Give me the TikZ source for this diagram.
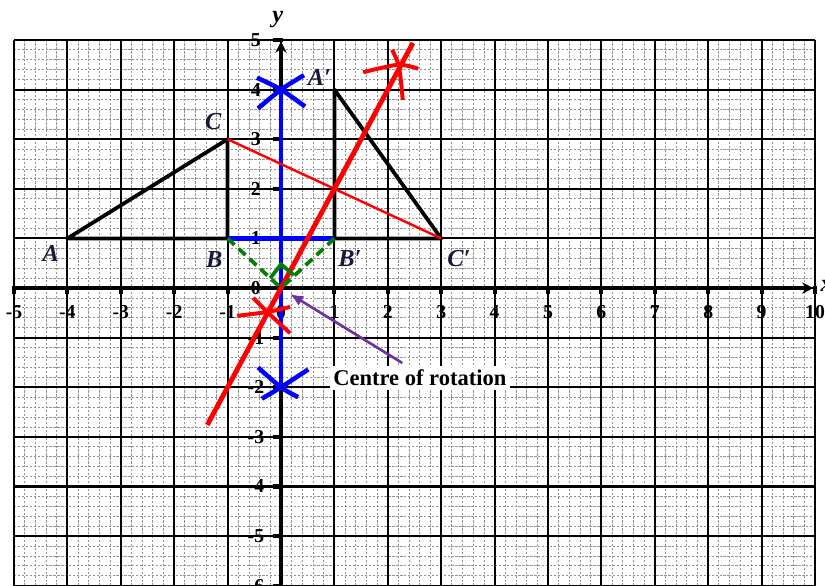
\documentclass[tikz,border=0pt]{standalone}
\usepackage{fontspec}
\setmainfont{Liberation Serif}
\usetikzlibrary{arrows.meta}
\definecolor{navyl}{RGB}{25,25,60}
\definecolor{rgreen}{RGB}{0,128,0}
\definecolor{rpurple}{RGB}{112,48,160}
\definecolor{rred}{RGB}{255,0,0}
\definecolor{rblue}{RGB}{0,0,255}
\begin{document}
\begin{tikzpicture}[x=1cm,y=0.929cm,
  minor/.style={gray!85, line width=0.45pt, dash pattern=on 1.2pt off 0.9pt},
  major/.style={black, line width=1.1pt},
  axisline/.style={black, line width=1.8pt},
  tickmark/.style={black, line width=2.2pt},
  tri/.style={black, line width=2pt, line join=round},
  ticklab/.style={font=\fontsize{10.5}{11}\selectfont\bfseries, inner sep=0pt},
  ptlab/.style={font=\fontsize{13}{15}\selectfont\bfseries\itshape, text=navyl, inner sep=0pt},
  bluethick/.style={rblue, line width=2.6pt},
  bluearc/.style={rblue, line width=2.4pt},
  redthick/.style={rred, line width=2.6pt},
  redthin/.style={rred, line width=1.3pt},
  redarc/.style={rred, line width=2.1pt},
  greendash/.style={rgreen, line width=2pt, dash pattern=on 5pt off 3pt},
  greenmark/.style={rgreen, line width=2pt, line join=miter},
  purplearrow/.style={rpurple, line width=1.4pt, -{Latex[length=7pt,width=6pt]}},
  calloutbox/.style={fill=white, inner sep=2pt, font=\fontsize{12}{14}\selectfont\bfseries}
]
\useasboundingbox (-5.262,-6) rectangle (10.187,5.806);

% minor grid
\foreach \i in {0,...,75} {
  \pgfmathsetmacro\xx{-5+0.2*\i}
  \draw[minor] (\xx,-6) -- (\xx,5);
}
\foreach \j in {0,...,55} {
  \pgfmathsetmacro\yy{-6+0.2*\j}
  \draw[minor] (-5,\yy) -- (10,\yy);
}
% major grid
\foreach \x in {-5,...,10} \draw[major] (\x,-6) -- (\x,5);
\foreach \y in {-6,...,5} \draw[major] (-5,\y) -- (10,\y);

% axes
\coordinate (xstart) at (-5,0);
\coordinate (xend) at (9.97,0);
\coordinate (ystart) at (0,-6);
\coordinate (yend) at (0,4.97);
\draw[axisline,-{Stealth[length=6pt,width=6pt]}] (xstart) -- (xend);
\draw[axisline,-{Stealth[length=6pt,width=6pt]}] (ystart) -- (yend);
\foreach \x in {-5,...,-1,1,2,...,10} \draw[tickmark] (\x,0.05) -- (\x,-0.12);
\foreach \y in {-6,...,-1,1,2,...,5} \draw[tickmark] (-0.15,\y) -- (0.03,\y);

% tick labels
\foreach \x in {-5,...,10} \node[ticklab] (xl\x) at (\x,-0.48) {\x};
\foreach \y in {-6,...,5} \node[ticklab] (yl\y) at (-0.47,\y) {\y};
\node[font=\fontsize{13}{15}\selectfont\bfseries\itshape, inner sep=0pt] (ylab) at (-0.06,5.42) {y};
\node[font=\fontsize{13}{15}\selectfont\bfseries\itshape, inner sep=0pt, anchor=west] (xlab) at (10.1,0.05) {x};

% points
\coordinate (A) at (-4,1);
\coordinate (B) at (-1,1);
\coordinate (C) at (-1,3);
\coordinate (Ap) at (1,4);
\coordinate (Bp) at (1,1);
\coordinate (Cp) at (3,1);
\coordinate (O) at (0,0);

% triangles
\draw[tri] (A) -- (B) -- (C) -- cycle;
\draw[tri] (Ap) -- (Bp) -- (Cp) -- cycle;

% blue construction (bisector of BB')
\coordinate (btop) at (0,4);
\coordinate (bbot) at (0,-2);
\draw[bluethick] (bbot) -- (btop);
\draw[bluethick] (B) -- (Bp);
\draw[bluearc] plot[smooth] coordinates {(-0.45,4.24) (btop) (0.45,3.66)};
\draw[bluearc] plot[smooth] coordinates {(-0.43,3.62) (btop) (0.43,4.29)};
\draw[bluearc] plot[smooth] coordinates {(-0.43,-1.6) (bbot) (0.32,-2.2)};
\draw[bluearc] plot[smooth] coordinates {(-0.36,-2.23) (bbot) (0.51,-1.64)};

% red construction (bisector of CC')
\coordinate (rlo) at (-1.38,-2.76);
\coordinate (rhi) at (2.47,4.94);
\draw[redthin] (C) -- (Cp);
\draw[redthick] (rlo) -- (rhi);
\draw[redarc] plot[smooth] coordinates {(1.54,4.35) (2.19,4.50) (2.57,4.42)};
\draw[redarc] plot[smooth] coordinates {(2.08,4.80) (2.21,4.46) (2.28,3.79)};
\draw[redarc] plot[smooth] coordinates {(-0.82,-0.56) (-0.24,-0.48) (0.17,-0.38)};
\draw[redarc] plot[smooth] coordinates {(-0.52,-0.20) (-0.24,-0.50) (0.17,-0.91)};

% green dashed lines and right angle
\draw[greendash] (B) -- (O);
\draw[greendash] (Bp) -- (O);
\coordinate (mL) at (-0.2,0.2);
\coordinate (mT) at (0,0.48);
\coordinate (mR) at (0.24,0.26);
\draw[greenmark] (mL) -- (mT) -- (mR);

% labels
\node[ptlab] (lA) at (-4.31,0.69) {A};
\node[ptlab] (lB) at (-1.25,0.58) {B};
\node[ptlab] (lC) at (-1.27,3.35) {C};
\node[ptlab] (lAp) at (0.72,4.25) {A′};
\node[ptlab] (lBp) at (1.29,0.6) {B′};
\node[ptlab] (lCp) at (3.33,0.6) {C′};

% callout
\node[calloutbox] (cr) at (2.60,-1.81) {Centre of rotation};
\coordinate (ptail) at (2.27,-1.51);
\coordinate (ptip) at (0.17,-0.12);
\draw[purplearrow] (ptail) -- (ptip);
\end{tikzpicture}
\end{document}
